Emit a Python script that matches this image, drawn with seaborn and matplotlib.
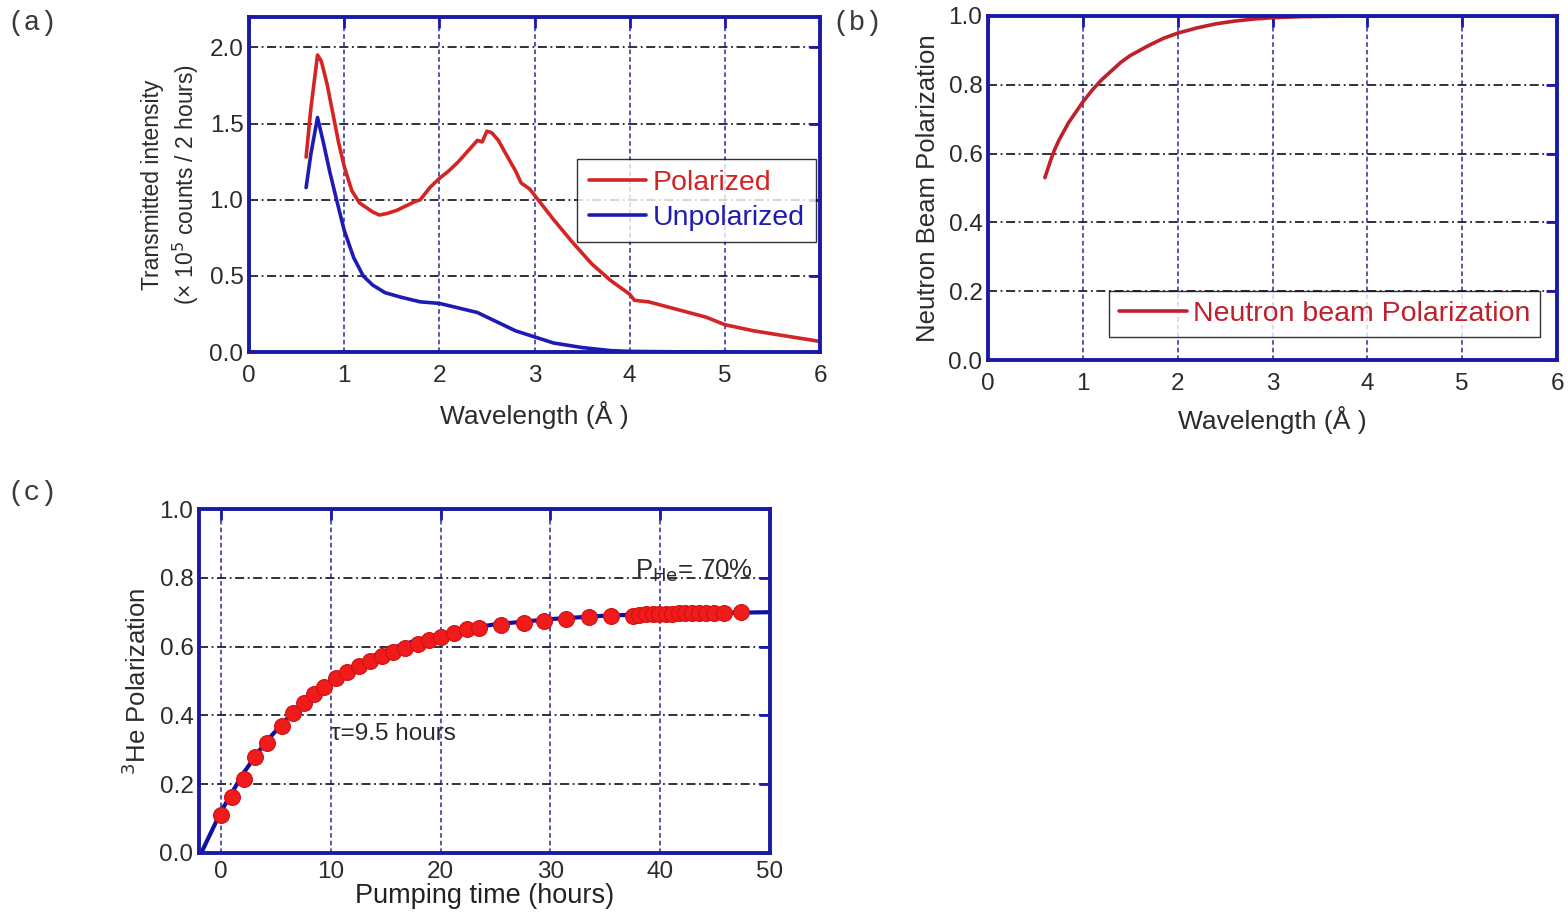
import numpy as np
import pandas as pd
import matplotlib
matplotlib.use("Agg")
import matplotlib.pyplot as plt
import seaborn as sns

# ---------------- data ----------------
# (a) transmitted intensity
pol_wl = [0.60, 0.65, 0.72, 0.76, 0.82, 0.88, 0.94, 1.00, 1.08, 1.16, 1.23, 1.30, 1.37, 1.45, 1.55, 1.65, 1.75, 1.80,
          1.90, 2.00, 2.10, 2.20, 2.30, 2.40, 2.45, 2.50, 2.55, 2.62, 2.70, 2.80, 2.86, 2.95, 3.05, 3.20,
          3.40, 3.60, 3.80, 4.00, 4.05, 4.20, 4.50, 4.80, 5.00, 5.30, 5.60, 6.00]
pol_int = [1.28, 1.60, 1.95, 1.91, 1.76, 1.57, 1.38, 1.22, 1.06, 0.98, 0.95, 0.92, 0.90, 0.91, 0.93, 0.96, 0.99, 1.00,
           1.08, 1.14, 1.19, 1.25, 1.32, 1.39, 1.38, 1.45, 1.44, 1.39, 1.30, 1.19, 1.11, 1.07, 0.99, 0.87,
           0.72, 0.58, 0.47, 0.38, 0.34, 0.33, 0.28, 0.23, 0.18, 0.14, 0.11, 0.07]

unp_wl = [0.60, 0.65, 0.72, 0.78, 0.85, 0.92, 1.00, 1.10, 1.20, 1.30, 1.43, 1.60, 1.80, 2.00, 2.20, 2.40,
          2.50, 2.60, 2.80, 3.00, 3.20, 3.50, 3.80, 4.00, 4.50, 5.20]
unp_int = [1.08, 1.30, 1.54, 1.38, 1.18, 1.00, 0.80, 0.62, 0.50, 0.44, 0.39, 0.36, 0.33, 0.32, 0.29, 0.26,
           0.23, 0.20, 0.14, 0.10, 0.06, 0.03, 0.01, 0.005, 0.002, 0.0]

# (b) neutron beam polarization
nbp_wl = [0.60, 0.63, 0.66, 0.70, 0.75, 0.80, 0.85, 0.90, 0.95, 1.00, 1.10, 1.20, 1.30, 1.40, 1.50, 1.60,
          1.70, 1.85, 2.00, 2.20, 2.40, 2.60, 2.80, 3.00, 3.30, 3.60, 4.00, 5.00, 6.00]
nbp_val = [0.53, 0.555, 0.58, 0.61, 0.64, 0.665, 0.69, 0.71, 0.73, 0.75, 0.785, 0.815, 0.84, 0.865, 0.885,
           0.90, 0.915, 0.935, 0.95, 0.965, 0.977, 0.985, 0.991, 0.995, 0.998, 0.999, 1.0, 1.0, 1.0]

# (c) 3He polarization
he_t = [0.0, 1.05, 2.1, 3.1, 4.2, 5.6, 6.6, 7.6, 8.5, 9.4, 10.5, 11.5, 12.6, 13.6, 14.7, 15.7, 16.8,
        17.9, 18.9, 20.0, 21.2, 22.4, 23.5, 25.5, 27.6, 29.4, 31.4, 33.5, 35.5, 37.5, 38.1, 38.7,
        39.3, 39.9, 40.5, 41.1, 41.7, 42.3, 42.9, 43.5, 44.2, 44.9, 45.8, 47.4]
he_p = [0.11, 0.163, 0.215, 0.28, 0.32, 0.37, 0.407, 0.436, 0.462, 0.483, 0.508, 0.527, 0.543, 0.559,
        0.572, 0.585, 0.597, 0.609, 0.618, 0.628, 0.64, 0.65, 0.655, 0.663, 0.67, 0.675, 0.68, 0.685,
        0.69, 0.69, 0.693, 0.694, 0.695, 0.695, 0.696, 0.696, 0.697, 0.697, 0.697, 0.698, 0.698, 0.699,
        0.699, 0.70]

fit_t = [-1.8, 0, 2, 4, 6, 8, 10, 12, 14, 16, 18, 20, 22, 25, 30, 35, 40, 45, 50]
fit_p = [0.0, 0.12, 0.23, 0.32, 0.39, 0.45, 0.50, 0.54, 0.575, 0.60, 0.62, 0.635, 0.65, 0.665, 0.68, 0.69, 0.695, 0.698, 0.70]

wl_ticks = [0, 1, 2, 3, 4, 5, 6]
int_ticks = [0.0, 0.5, 1.0, 1.5, 2.0]
pol_ticks = [0.0, 0.2, 0.4, 0.6, 0.8, 1.0]
t_ticks = [0, 10, 20, 30, 40, 50]

# ---------------- style ----------------
sns.set_style("white")
plt.rcParams['font.family'] = ['Liberation Sans', 'DejaVu Sans']

NAVY = '#1a1aa6'
TXT = '#2b2b2b'
RED = '#d42424'
BLUE = '#1c1cb4'
DRED = '#c0202c'

fig = plt.figure(figsize=(15.68, 9.17), dpi=100)
axa = fig.add_axes([0.1588, 0.616, 0.3642, 0.3655])
axb = fig.add_axes([0.6301, 0.6074, 0.3629, 0.3752])
axc = fig.add_axes([0.1269, 0.0698, 0.3642, 0.3751])


def style(ax, xt, yt, xfmt, yfmt, xgrid, ygrid, xpad=9):
    ax.set_xticks(xt)
    ax.set_yticks(yt)
    ax.set_xticklabels([xfmt.format(v) for v in xt])
    ax.set_yticklabels([yfmt.format(v) for v in yt])
    for s in ax.spines.values():
        s.set_color(NAVY)
        s.set_linewidth(2.8)
        s.set_visible(True)
    ax.tick_params(direction='in', length=8, width=2, color=NAVY, labelsize=17.5,
                   labelcolor=TXT, top=True, right=True, pad=4)
    ax.tick_params(axis='x', pad=xpad)
    ax.grid(False)
    for v in xgrid:
        ax.axvline(v, color='#2a2aa0', lw=1.1, ls=(0, (3, 2)), zorder=0)
    for v in ygrid:
        ax.axhline(v, color='#202030', lw=1.3, ls=(0, (5, 2, 1, 2)), zorder=0)
    ax.set_facecolor('white')


# (a)
dfp = pd.DataFrame({'wl': pol_wl, 'I': pol_int})
dfu = pd.DataFrame({'wl': unp_wl, 'I': unp_int})
sns.lineplot(data=dfp, x='wl', y='I', ax=axa, color=RED, lw=2.6, label='Polarized', sort=False)
sns.lineplot(data=dfu, x='wl', y='I', ax=axa, color=BLUE, lw=2.6, label='Unpolarized', sort=False)
axa.set_xlim(0, 6)
axa.set_ylim(0, 2.2)
style(axa, wl_ticks, int_ticks, '{:d}', '{:.1f}', wl_ticks[1:-1], int_ticks[1:])
axa.set_xlabel('Wavelength (Å )', fontsize=19, color=TXT, labelpad=10)
axa.set_ylabel('Transmitted intensity\n(× 10$^5$ counts / 2 hours)', fontsize=16.5, color=TXT, labelpad=6,
               linespacing=1.3)
leg = axa.legend(loc='upper right', bbox_to_anchor=(0.993, 0.576), fontsize=20.5, frameon=True,
                 fancybox=False, edgecolor='black', handlelength=2.0, handletextpad=0.25,
                 borderpad=0.4, labelspacing=0.3, borderaxespad=0)
leg.get_frame().set_linewidth(1.0)
for t, c in zip(leg.get_texts(), [RED, BLUE]):
    t.set_color(c)

# (b)
dfb = pd.DataFrame({'wl': nbp_wl, 'P': nbp_val})
sns.lineplot(data=dfb, x='wl', y='P', ax=axb, color=DRED, lw=2.6, label='Neutron beam Polarization', sort=False)
axb.set_xlim(0, 6)
axb.set_ylim(0, 1.0)
style(axb, wl_ticks, pol_ticks, '{:d}', '{:.1f}', wl_ticks[1:-1], pol_ticks[1:-1])
axb.set_xlabel('Wavelength (Å )', fontsize=19, color=TXT, labelpad=8)
axb.set_ylabel('Neutron Beam Polarization', fontsize=18.5, color=TXT, labelpad=6)
leg = axb.legend(loc='lower right', bbox_to_anchor=(0.970, 0.067), fontsize=20.5, frameon=True,
                 fancybox=False, edgecolor='black', handlelength=2.4, handletextpad=0.2,
                 borderpad=0.35, borderaxespad=0)
leg.get_frame().set_linewidth(1.0)
leg.get_texts()[0].set_color(DRED)

# (c)
dff = pd.DataFrame({'t': fit_t, 'P': fit_p})
dfh = pd.DataFrame({'t': he_t, 'P': he_p})
sns.lineplot(data=dff, x='t', y='P', ax=axc, color='#1010a0', lw=3.0, sort=False, zorder=2)
sns.scatterplot(data=dfh, x='t', y='P', ax=axc, color='#f01c1c', s=130, edgecolor='#d01010',
                linewidth=0.8, zorder=3)
axc.set_xlim(-2, 50)
axc.set_ylim(0, 1.0)
style(axc, t_ticks, pol_ticks, '{:d}', '{:.1f}', t_ticks[:-1], pol_ticks[1:-1], xpad=6)
axc.set_xlabel('Pumping time (hours)', fontsize=19.5, color='#222222', labelpad=0)
axc.set_ylabel('$^3$He Polarization', fontsize=18.5, color=TXT, labelpad=6)
axc.text(10.0, 0.345, 'τ=9.5 hours', fontsize=17.5, color=TXT, ha='left', va='center')
axc.text(37.7, 0.82, 'P$_{\\mathrm{He}}$= 70%', fontsize=18.5, color=TXT, ha='left', va='center')

# panel labels
for x, y, s in [(0.005, 0.975, '(a)'), (0.531, 0.975, '(b)'), (0.005, 0.462, '(c)')]:
    fig.text(x, y, s, fontsize=20, color='#3a3a3a', family='Liberation Mono', ha='left', va='center')

fig.savefig('out.png', dpi=100, facecolor='white')
